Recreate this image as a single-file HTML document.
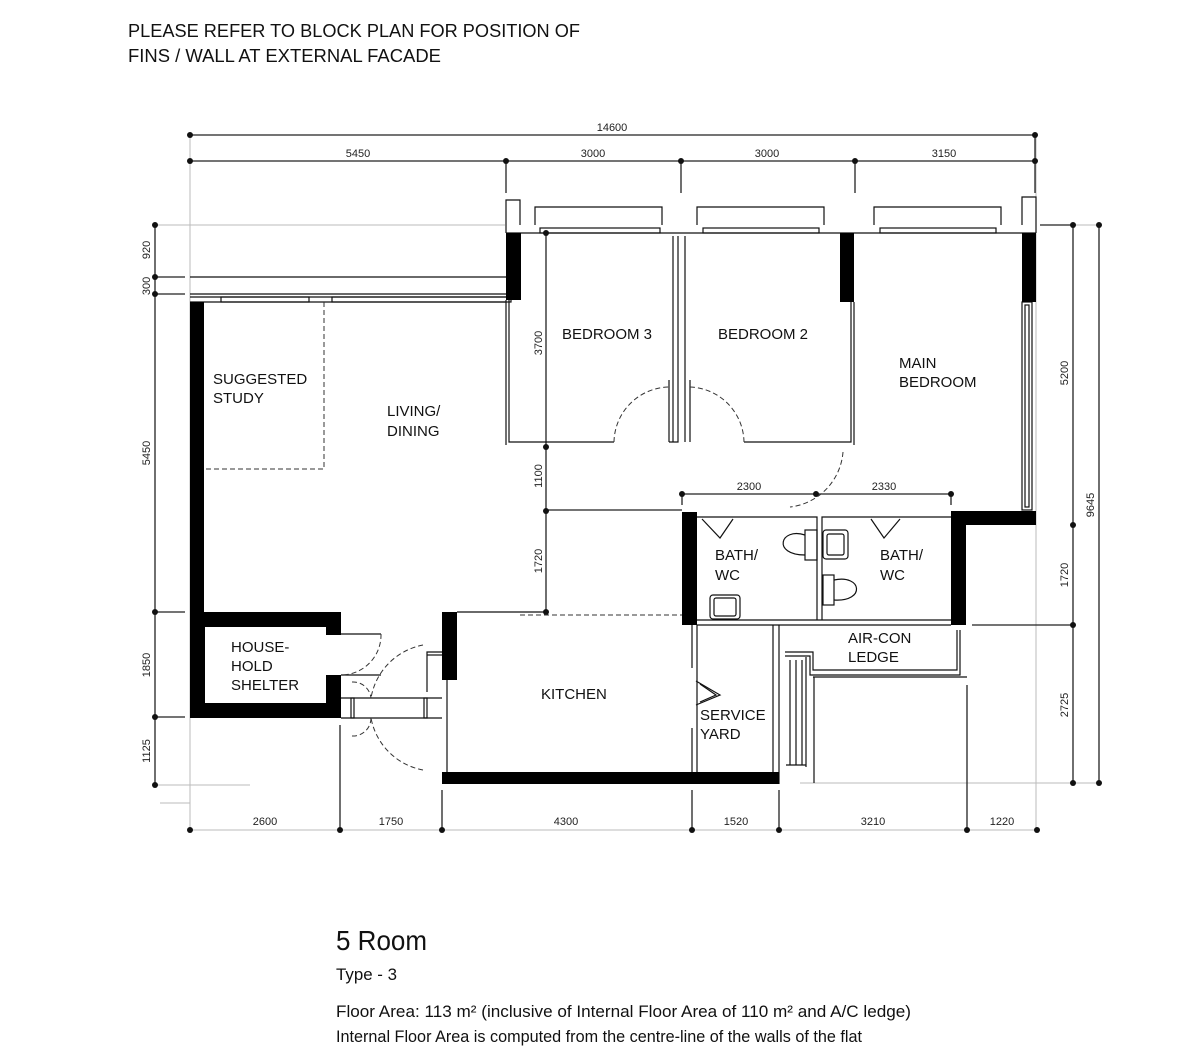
<!DOCTYPE html>
<html><head><meta charset="utf-8"><style>
html,body{margin:0;padding:0;background:#fff;}
svg{display:block;font-family:"Liberation Sans",sans-serif;}
</style></head><body>
<svg width="1200" height="1057" viewBox="0 0 1200 1057" xmlns="http://www.w3.org/2000/svg">
<g fill="#111">
<text x="128" y="37" font-size="18" textLength="452" lengthAdjust="spacingAndGlyphs">PLEASE REFER TO BLOCK PLAN FOR POSITION OF</text>
<text x="128" y="62" font-size="18" textLength="313" lengthAdjust="spacingAndGlyphs">FINS / WALL AT EXTERNAL FACADE</text>
<text x="336" y="950" font-size="28" textLength="91" lengthAdjust="spacingAndGlyphs">5 Room</text>
<text x="336" y="980" font-size="17" textLength="61" lengthAdjust="spacingAndGlyphs">Type - 3</text>
<text x="336" y="1017" font-size="17" textLength="575" lengthAdjust="spacingAndGlyphs">Floor Area: 113 m²   (inclusive of Internal Floor Area of 110 m²  and A/C ledge)</text>
<text x="336" y="1042" font-size="17" textLength="526" lengthAdjust="spacingAndGlyphs">Internal Floor Area is computed from the centre-line of the walls of the flat</text>
</g>

<!-- light extension lines -->
<g stroke="#bbb" stroke-width="1" fill="none">
<line x1="190" y1="135" x2="190" y2="830"/>
<line x1="155" y1="225" x2="505" y2="225"/>
<line x1="155" y1="785" x2="250" y2="785"/>
<line x1="160" y1="803" x2="190" y2="803"/>
<line x1="1036" y1="135" x2="1036" y2="830"/>
<line x1="1040" y1="225" x2="1100" y2="225"/>
<line x1="800" y1="783" x2="1100" y2="783"/>
<line x1="190" y1="830" x2="1037" y2="830"/>
</g>

<!-- dimension lines -->
<g stroke="#222" stroke-width="1.3" fill="none">
<line x1="190" y1="135" x2="1035" y2="135"/>
<line x1="190" y1="161" x2="1035" y2="161"/>
<line x1="506" y1="161" x2="506" y2="193"/>
<line x1="681" y1="161" x2="681" y2="193"/>
<line x1="855" y1="161" x2="855" y2="193"/>
<line x1="1035" y1="135" x2="1035" y2="193"/>
<line x1="155" y1="225" x2="155" y2="785"/>
<line x1="155" y1="277" x2="185" y2="277"/>
<line x1="155" y1="294" x2="185" y2="294"/>
<line x1="155" y1="612" x2="185" y2="612"/>
<line x1="155" y1="717" x2="185" y2="717"/>
<line x1="1073" y1="225" x2="1073" y2="783"/>
<line x1="1099" y1="225" x2="1099" y2="783"/>
<line x1="972" y1="625" x2="1073" y2="625"/>
<line x1="1040" y1="225" x2="1073" y2="225"/>
<line x1="340" y1="725" x2="340" y2="830"/>
<line x1="442" y1="790" x2="442" y2="830"/>
<line x1="692" y1="790" x2="692" y2="830"/>
<line x1="779" y1="790" x2="779" y2="830"/>
<line x1="967" y1="685" x2="967" y2="830"/>
<line x1="546" y1="233" x2="546" y2="612"/>
<line x1="546" y1="510" x2="682" y2="510"/>
<line x1="682" y1="494" x2="951" y2="494"/>
<line x1="951" y1="494" x2="951" y2="505"/>
<line x1="682" y1="494" x2="682" y2="505"/>
</g>
<g fill="#111">
<circle cx="190" cy="135" r="3"/><circle cx="1035" cy="135" r="3"/>
<circle cx="190" cy="161" r="3"/><circle cx="506" cy="161" r="3"/><circle cx="681" cy="161" r="3"/><circle cx="855" cy="161" r="3"/><circle cx="1035" cy="161" r="3"/>
<circle cx="155" cy="225" r="3"/><circle cx="155" cy="277" r="3"/><circle cx="155" cy="294" r="3"/><circle cx="155" cy="612" r="3"/><circle cx="155" cy="717" r="3"/><circle cx="155" cy="785" r="3"/>
<circle cx="1073" cy="225" r="3"/><circle cx="1073" cy="525" r="3"/><circle cx="1073" cy="625" r="3"/><circle cx="1073" cy="783" r="3"/>
<circle cx="1099" cy="225" r="3"/><circle cx="1099" cy="783" r="3"/>
<circle cx="190" cy="830" r="3"/><circle cx="340" cy="830" r="3"/><circle cx="442" cy="830" r="3"/><circle cx="692" cy="830" r="3"/><circle cx="779" cy="830" r="3"/><circle cx="967" cy="830" r="3"/><circle cx="1037" cy="830" r="3"/>
<circle cx="546" cy="233" r="3"/><circle cx="546" cy="447" r="3"/><circle cx="546" cy="511" r="3"/><circle cx="546" cy="612" r="3"/>
<circle cx="682" cy="494" r="3"/><circle cx="816" cy="494" r="3"/><circle cx="951" cy="494" r="3"/>
</g>
<g fill="#222" font-size="11">
<text x="612" y="131" text-anchor="middle">14600</text>
<text x="358" y="157" text-anchor="middle">5450</text>
<text x="593" y="157" text-anchor="middle">3000</text>
<text x="767" y="157" text-anchor="middle">3000</text>
<text x="944" y="157" text-anchor="middle">3150</text>
<text x="265" y="825" text-anchor="middle">2600</text>
<text x="391" y="825" text-anchor="middle">1750</text>
<text x="566" y="825" text-anchor="middle">4300</text>
<text x="736" y="825" text-anchor="middle">1520</text>
<text x="873" y="825" text-anchor="middle">3210</text>
<text x="1002" y="825" text-anchor="middle">1220</text>
<text x="749" y="490" text-anchor="middle">2300</text>
<text x="884" y="490" text-anchor="middle">2330</text>
<text transform="translate(150,250) rotate(-90)" text-anchor="middle">920</text>
<text transform="translate(150,286) rotate(-90)" text-anchor="middle">300</text>
<text transform="translate(150,453) rotate(-90)" text-anchor="middle">5450</text>
<text transform="translate(150,665) rotate(-90)" text-anchor="middle">1850</text>
<text transform="translate(150,751) rotate(-90)" text-anchor="middle">1125</text>
<text transform="translate(542,343) rotate(-90)" text-anchor="middle">3700</text>
<text transform="translate(542,476) rotate(-90)" text-anchor="middle">1100</text>
<text transform="translate(542,561) rotate(-90)" text-anchor="middle">1720</text>
<text transform="translate(1068,373) rotate(-90)" text-anchor="middle">5200</text>
<text transform="translate(1068,575) rotate(-90)" text-anchor="middle">1720</text>
<text transform="translate(1068,705) rotate(-90)" text-anchor="middle">2725</text>
<text transform="translate(1094,505) rotate(-90)" text-anchor="middle">9645</text>
</g>

<!-- walls thin -->
<g stroke="#111" stroke-width="1.2" fill="none">
<!-- living top facade -->
<line x1="190" y1="277" x2="506" y2="277"/>
<line x1="190" y1="294" x2="506" y2="294"/>
<line x1="190" y1="297" x2="506" y2="297"/>
<line x1="190" y1="302" x2="506" y2="302"/>
<rect x="221" y="297" width="88" height="5"/>
<rect x="332" y="297" width="179" height="5" />
<!-- bedroom top -->
<line x1="506" y1="233" x2="1036" y2="233"/>
<path d="M506 233 V200 H520 V225"/>
<path d="M535 225 V207 H662 V225"/>
<path d="M697 225 V207 H824 V225"/>
<path d="M874 225 V207 H1001 V225"/>
<path d="M1022 225 V197 H1036 V233"/>
<rect x="540" y="228" width="120" height="5"/>
<rect x="703" y="228" width="116" height="5"/>
<rect x="880" y="228" width="116" height="5"/>
<!-- bedroom 3 -->
<path d="M509 300 V442 H614"/>
<path d="M506 300 V445"/>
<path d="M669 442 H678 V236"/>
<path d="M673 442 V236"/>
<path d="M669 380 V442"/>
<path d="M690 380 V442"/>
<!-- bedroom 2 -->
<path d="M685 442 V236"/>
<path d="M744 442 H851 V302"/>
<path d="M854 302 V445"/>
<!-- main bedroom right window -->
<rect x="1022" y="302" width="10" height="208"/>
<rect x="1025" y="305" width="4" height="202"/>
<!-- bath -->
<path d="M697 517 H817 V620"/>
<path d="M822 620 V517 H951"/>
<line x1="697" y1="620" x2="951" y2="620"/>
<line x1="697" y1="625" x2="951" y2="625"/>
<!-- shelter door etc -->
<path d="M341 634 H381"/>
<path d="M341 675 H381"/>
<path d="M341 698 H442"/>
<path d="M341 718 H442"/>
<rect x="351" y="698" width="3" height="20"/>
<rect x="424" y="698" width="3" height="20"/>
<path d="M427 692 V652 H442"/>
<path d="M427 655 H442"/>
<!-- kitchen -->
<path d="M457 612 H545"/>
<path d="M447 680 V772"/>
<!-- service yard -->
<path d="M697 625 V772"/>
<path d="M692 625 V668"/>
<path d="M692 728 V784"/>
<path d="M773 625 V772"/>
<path d="M779 625 V784"/>
<path d="M696 681 L720 695 L696 705"/>
<path d="M700 684 L716 695 L700 702"/>
<!-- aircon ledge -->
<path d="M785 652 H813 V670 H957 V630"/>
<path d="M785 656 H810 V675 H960 V630"/>
<path d="M806 657 V767"/>
<path d="M790 660 V765"/>
<path d="M796 660 V765"/>
<path d="M802 660 V765"/>
<path d="M786 765 H806"/>
<path d="M814 677 V783"/>
<path d="M813 677 H967"/>
<!-- toilets -->
<rect x="805" y="530" width="12" height="30"/>
<path d="M805 535 C780 527 772 555 805 555"/>
<rect x="823" y="575" width="11" height="30"/>
<path d="M834 580 C862 574 866 602 834 600"/>
<rect x="823" y="530" width="25" height="29" rx="3"/>
<rect x="827" y="534" width="17" height="21" rx="2"/>
<rect x="710" y="595" width="30" height="24" rx="3"/>
<rect x="714" y="598" width="22" height="18" rx="2"/>
<path d="M702 519 L720 538 L733 519"/>
<path d="M871 519 L884 538 L900 519"/>
</g>

<!-- dashed -->
<g stroke="#333" stroke-width="1" fill="none" stroke-dasharray="5,3">
<path d="M324 302 V469 H203"/>
<path d="M520 615 H682"/>
<path d="M614 442 A56 56 0 0 1 669 387"/>
<path d="M690 387 A56 56 0 0 1 744 442"/>
<path d="M843 452 A60 60 0 0 1 790 507"/>
<path d="M381 634 A40 40 0 0 1 341 675"/>
<path d="M423 645 A65 65 0 0 0 371 698"/>
<path d="M423 770 A65 65 0 0 1 371 718"/>
<path d="M352 682 A18 18 0 0 1 371 698"/>
<path d="M352 736 A18 18 0 0 0 371 718"/>
</g>

<!-- thick black walls -->
<g fill="#000">
<rect x="190" y="302" width="14" height="416"/>
<rect x="190" y="612" width="151" height="15"/>
<rect x="190" y="703" width="151" height="15"/>
<rect x="190" y="612" width="15" height="106"/>
<rect x="326" y="627" width="15" height="8"/>
<rect x="326" y="675" width="15" height="28"/>
<rect x="506" y="233" width="15" height="67"/>
<rect x="840" y="233" width="14" height="69"/>
<rect x="1022" y="233" width="14" height="69"/>
<rect x="951" y="511" width="85" height="14"/>
<rect x="682" y="512" width="15" height="113"/>
<rect x="951" y="512" width="15" height="113"/>
<rect x="442" y="612" width="15" height="68"/>
<rect x="442" y="772" width="337" height="12"/>
</g>

<!-- room labels -->
<g fill="#111" font-size="15">
<text x="213" y="384">SUGGESTED</text>
<text x="213" y="403">STUDY</text>
<text x="387" y="416">LIVING/</text>
<text x="387" y="436">DINING</text>
<text x="562" y="339">BEDROOM 3</text>
<text x="718" y="339">BEDROOM 2</text>
<text x="899" y="368">MAIN</text>
<text x="899" y="387">BEDROOM</text>
<text x="715" y="560">BATH/</text>
<text x="715" y="580">WC</text>
<text x="880" y="560">BATH/</text>
<text x="880" y="580">WC</text>
<text x="848" y="643">AIR-CON</text>
<text x="848" y="662">LEDGE</text>
<text x="231" y="652">HOUSE-</text>
<text x="231" y="671">HOLD</text>
<text x="231" y="690">SHELTER</text>
<text x="541" y="699">KITCHEN</text>
<text x="700" y="720">SERVICE</text>
<text x="700" y="739">YARD</text>
</g>
</svg>
</body></html>
